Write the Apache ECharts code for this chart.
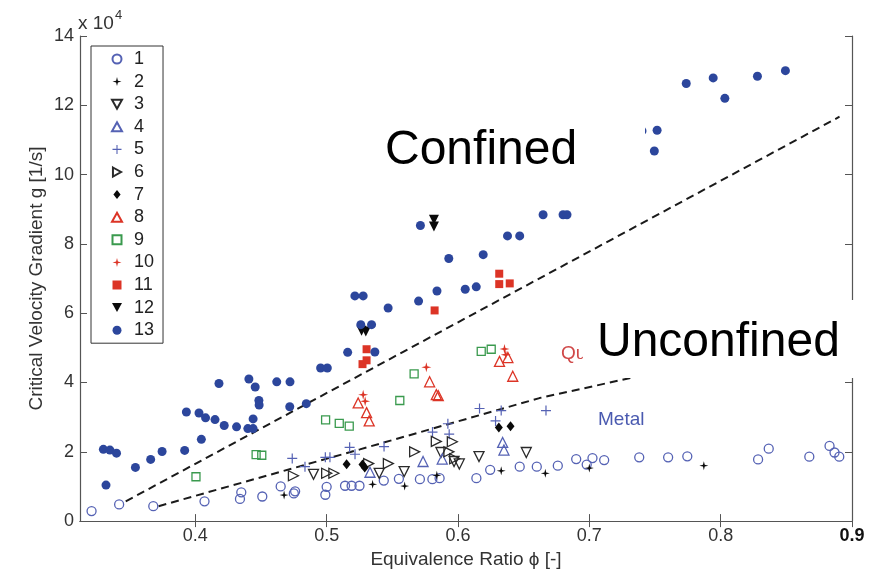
<!DOCTYPE html>
<html>
<head>
<meta charset="utf-8">
<script src="https://cdn.jsdelivr.net/npm/echarts@6/dist/echarts.min.js"></script>
<style>
  html, body { margin: 0; padding: 0; background: #fff; }
  #chart { width: 884px; height: 574px; }
</style>
</head>
<body>
<div id="chart"></div>
<script>
// Critical velocity gradient g (in units of 1e4 1/s) versus equivalence ratio phi
const xTicks = [0.4, 0.5, 0.6, 0.7, 0.8, 0.9];
const yTicks = [0, 2, 4, 6, 8, 10, 12, 14];

const s1 = [[0.321,0.29],[0.342,0.48],[0.368,0.43],[0.407,0.57],[0.434,0.64],[0.435,0.83],[0.451,0.71],[0.465,1.00],[0.475,0.80],[0.476,0.86],[0.499,0.76],[0.500,0.99],[0.514,1.02],[0.519,1.02],[0.525,1.02],[0.5435,1.17],[0.555,1.22],[0.571,1.21],[0.5805,1.21],[0.586,1.24],[0.614,1.24],[0.6245,1.48],[0.647,1.57],[0.660,1.57],[0.676,1.60],[0.690,1.79],[0.698,1.63],[0.7024,1.82],[0.7113,1.76],[0.738,1.84],[0.760,1.84],[0.7746,1.87],[0.8285,1.78],[0.8366,2.09],[0.8675,1.86],[0.8829,2.17],[0.8867,1.98],[0.8903,1.86]];
const s2 = [[0.4676,0.75],[0.535,1.06],[0.5594,1.01],[0.5839,1.32],[0.6329,1.45],[0.6665,1.38],[0.700,1.53],[0.7872,1.60]];
const s3 = [[0.490,1.35],[0.540,1.38],[0.559,1.43],[0.587,1.98],[0.597,1.72],[0.601,1.65],[0.616,1.86],[0.652,1.98]];
const s4 = [[0.533,1.41],[0.5734,1.72],[0.588,1.79],[0.634,2.27],[0.635,2.05]];
const s5 = [[0.4738,1.81],[0.4835,1.57],[0.499,1.84],[0.5025,1.84],[0.5175,2.13],[0.5216,1.93],[0.5437,2.15],[0.5806,2.57],[0.5933,2.51],[0.5923,2.81],[0.6164,3.25],[0.6329,3.19],[0.6286,2.89],[0.667,3.19]];
const s6 = [[0.4747,1.31],[0.500,1.38],[0.5055,1.38],[0.532,1.66],[0.547,1.66],[0.567,2.00],[0.5835,2.30],[0.5957,2.29],[0.5931,2.00],[0.5975,1.80]];
const s7 = [[0.5152,1.64],[0.5273,1.63],[0.529,1.55],[0.6311,2.70],[0.640,2.74]];
const s8 = [[0.524,3.41],[0.5304,3.13],[0.5324,2.89],[0.5784,4.02],[0.5835,3.65],[0.585,3.62],[0.6417,4.18],[0.6316,4.61],[0.638,4.72]];
const s9 = [[0.4005,1.28],[0.4463,1.92],[0.4506,1.90],[0.4992,2.92],[0.5096,2.82],[0.5172,2.74],[0.5557,3.48],[0.5666,4.25],[0.6177,4.90],[0.6253,4.96]];
const s10 = [[0.5278,3.65],[0.5293,3.46],[0.5759,4.44],[0.6354,4.97],[0.6364,4.80]];
const s11 = [[0.5273,4.53],[0.5304,4.64],[0.5304,4.96],[0.5822,6.08],[0.6314,7.14],[0.6314,6.84],[0.6394,6.86]];
const s12 = [[0.5266,5.49],[0.5298,5.47],[0.5817,8.50],[0.5817,8.70]];
const s13 = [[0.330,2.07],[0.335,2.05],[0.340,1.96],[0.332,1.04],[0.3544,1.55],[0.366,1.78],[0.3747,2.01],[0.3919,2.04],[0.3932,3.15],[0.4028,3.12],[0.4078,2.98],[0.4046,2.36],[0.415,2.93],[0.418,3.97],[0.422,2.76],[0.4314,2.72],[0.440,2.67],[0.444,2.67],[0.444,2.95],[0.4408,4.10],[0.4456,3.87],[0.4484,3.48],[0.4486,3.35],[0.462,4.02],[0.4721,4.02],[0.4719,3.30],[0.4845,3.39],[0.4954,4.42],[0.5005,4.42],[0.516,4.87],[0.5367,4.88],[0.526,5.67],[0.5342,5.67],[0.5215,6.50],[0.5278,6.50],[0.5468,6.15],[0.570,6.35],[0.584,6.64],[0.5714,8.53],[0.593,7.58],[0.6055,6.69],[0.6139,6.76],[0.6192,7.69],[0.6377,8.23],[0.647,8.23],[0.6648,8.84],[0.680,8.84],[0.683,8.84],[0.7401,11.26],[0.7516,11.28],[0.7495,10.68],[0.7738,12.63],[0.7943,12.79],[0.8032,12.20],[0.828,12.84],[0.8493,13.00]];

// dashed regime boundaries
const confinedLine = [[0.347,0.57],[0.8905,11.67]];
const unconfinedLine = [[0.372,0.43],[0.5253,2.07],[0.662,3.55],[0.760,4.37]];

const FONT = "'Liberation Sans', Arial, Helvetica, sans-serif";
const BLUE = '#2c469c', LBLUE = '#5562b4', RED = '#dc3426', GREEN = '#3a9a4e', BLACK = '#0a0a0a', GRAY = '#2a2a2a';

// marker outlines (path symbols keep their aspect ratio in the legend too)
const PLUS = 'path://M4.4,0H5.6V4.4H10V5.6H5.6V10H4.4V5.6H0V4.4H4.4Z';
const STAR = 'path://M5,0L6,4L10,5L6,6L5,10L4,6L0,5L4,4Z';
const TRI_UP = 'path://M5,0L10,9L0,9Z';
const TRI_DOWN = 'path://M0,0L10,0L5,9Z';
const TRI_RIGHT = 'path://M0,0L9,5L0,10Z';
const SQUARE = 'path://M0,0H10V10H0Z';
const DIAMOND = 'path://M4,0L8,5L4,10L0,5Z';

function scatter(name, data, symbol, size, color, hollow) {
  return {
    name, type: 'scatter', data, symbol, symbolSize: size, silent: true,
    itemStyle: hollow
      ? { color: 'rgba(255,255,255,0)', borderColor: color, borderWidth: 1.3, opacity: 1 }
      : { color: color, borderWidth: 0, opacity: 1 },
    z: 3
  };
}

function boundary(data) {
  return {
    type: 'line', data, showSymbol: false, symbol: 'none', silent: true, z: 2,
    lineStyle: { color: '#1a1a1a', width: 2, type: [8, 5] }
  };
}

const chart = echarts.init(document.getElementById('chart'));
chart.setOption({
  animation: false,
  backgroundColor: '#fff',
  textStyle: { fontFamily: FONT },
  grid: { left: 80, right: 32, top: 36, bottom: 50, containLabel: false },
  legend: {
    orient: 'vertical', left: 91, top: 46,
    padding: [4, 9, 4, 20],
    itemWidth: 24, itemHeight: 9, itemGap: 4.6,
    borderColor: '#333', borderWidth: 1, backgroundColor: '#fff',
    textStyle: { fontSize: 18, lineHeight: 18, color: '#222', fontFamily: FONT },
    data: ['1','2','3','4','5','6','7','8','9','10','11','12','13']
  },
  xAxis: [{
    type: 'value', min: 0.3122, max: 0.9, position: 'bottom',
    name: 'Equivalence Ratio \u03d5 [-]', nameLocation: 'middle', nameGap: 27,
    nameTextStyle: { fontSize: 19, color: '#333', fontFamily: FONT },
    axisLine: { show: true, lineStyle: { color: '#555', width: 1.2 } },
    axisTick: { show: true, inside: true, length: 7, customValues: xTicks, lineStyle: { color: '#555' } },
    axisLabel: {
      customValues: xTicks, margin: 6, fontSize: 18, color: '#333', fontFamily: FONT,
      formatter: v => (Math.abs(v - 0.9) < 1e-9 ? '{b|0.9}' : v.toFixed(1)),
      rich: { b: { fontSize: 18, fontWeight: 'bold', color: '#111', fontFamily: FONT } }
    },
    splitLine: { show: false }
  }, {
    type: 'value', min: 0.3122, max: 0.9, position: 'top',
    axisLine: { show: true, lineStyle: { color: '#555', width: 1.2 } },
    axisTick: { show: true, inside: true, length: 6, customValues: xTicks, lineStyle: { color: '#555' } },
    axisLabel: { show: false },
    splitLine: { show: false }
  }],
  yAxis: [{
    type: 'value', min: 0, max: 14, interval: 2, position: 'left',
    name: 'Critical Velocity Gradient g [1/s]', nameLocation: 'middle', nameGap: 34, nameRotate: 90,
    nameMoveOverlap: false,
    nameTextStyle: { fontSize: 19, color: '#333', fontFamily: FONT },
    axisLine: { show: true, lineStyle: { color: '#555', width: 1.2 } },
    axisTick: { show: true, inside: true, length: 7, lineStyle: { color: '#555' } },
    axisLabel: { margin: 6, fontSize: 18, color: '#333', fontFamily: FONT, customValues: yTicks },
    splitLine: { show: false }
  }, {
    type: 'value', min: 0, max: 14, interval: 2, position: 'right',
    axisLine: { show: true, lineStyle: { color: '#555', width: 1.2 } },
    axisTick: { show: true, inside: true, length: 7, lineStyle: { color: '#555' } },
    axisLabel: { show: false },
    splitLine: { show: false }
  }],
  series: [
    boundary(confinedLine),
    boundary(unconfinedLine),
    scatter('1', s1, 'circle', 9, LBLUE, true),
    scatter('2', s2, STAR, 9, BLACK, false),
    scatter('3', s3, TRI_DOWN, 10, GRAY, true),
    scatter('4', s4, TRI_UP, 10, LBLUE, true),
    scatter('5', s5, PLUS, 10, LBLUE, false),
    scatter('6', s6, TRI_RIGHT, 10, GRAY, true),
    scatter('7', s7, DIAMOND, [8, 10], BLACK, false),
    scatter('8', s8, TRI_UP, 10, RED, true),
    scatter('9', s9, SQUARE, 8, GREEN, true),
    scatter('10', s10, STAR, 10, RED, false),
    scatter('11', s11, SQUARE, 8, RED, false),
    scatter('12', s12, TRI_DOWN, 10, BLACK, false),
    scatter('13', s13, 'circle', 9, BLUE, false)
  ],
  graphic: [
    { type: 'text', x: 78, y: 24, z: 100, style: { text: 'x 10', font: '19px ' + FONT, fill: '#333', verticalAlign: 'middle' } },
    { type: 'text', x: 115, y: 15, z: 100, style: { text: '4', font: '13px ' + FONT, fill: '#333', verticalAlign: 'middle' } },
    { type: 'text', x: 561, y: 353.4, z: 100, style: { text: 'Quartz', font: '19px ' + FONT, fill: '#d04848', verticalAlign: 'middle' } },
    { type: 'text', x: 598, y: 419.4, z: 100, style: { text: 'Metal', font: '19px ' + FONT, fill: '#4a5ab0', verticalAlign: 'middle' } },
    { type: 'rect', z: 110, shape: { x: 375, y: 120, width: 270, height: 60 }, style: { fill: '#fff' } },
    { type: 'text', x: 385, y: 150.4, z: 111, style: { text: 'Confined', font: '48px ' + FONT, fill: '#000', verticalAlign: 'middle' } },
    { type: 'rect', z: 110, shape: { x: 583, y: 300, width: 301, height: 78 }, style: { fill: '#fff' } },
    { type: 'text', x: 597, y: 342.4, z: 111, style: { text: 'Unconfined', font: '48px ' + FONT, fill: '#000', verticalAlign: 'middle' } }
  ]
});
</script>
</body>
</html>
